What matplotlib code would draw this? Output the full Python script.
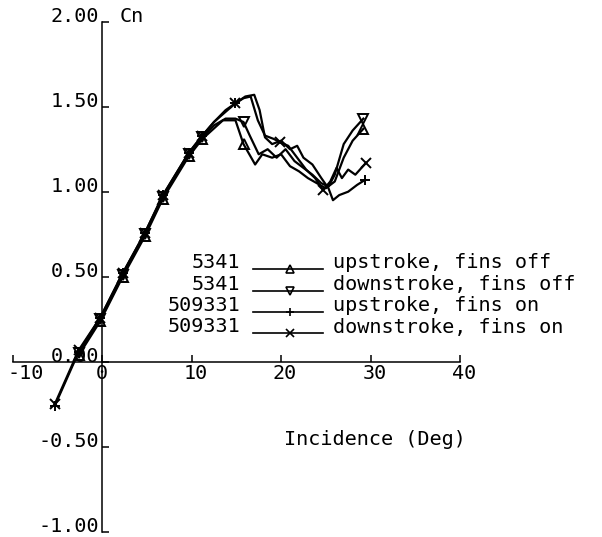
import matplotlib
matplotlib.use("Agg")
import matplotlib.pyplot as plt
from matplotlib.transforms import ScaledTranslation


# =========================================================
# DATA  (Cn vs incidence, deg)
# =========================================================

UP_OFF_DEG = [-2.6, -0.2, 2.3, 4.8, 6.8, 9.7, 11.2, 13.5, 14.9, 15.8, 17.1, 17.9,
              19.0, 20.0, 21.0, 22.0, 23.0, 24.0, 25.0, 26.0, 27.0, 28.0, 29.2]
UP_OFF_CN = [0.04, 0.24, 0.50, 0.74, 0.96, 1.21, 1.31, 1.42, 1.42, 1.28, 1.16, 1.22,
             1.20, 1.22, 1.15, 1.12, 1.08, 1.05, 1.02, 1.06, 1.20, 1.30, 1.37]

DOWN_OFF_DEG = [-2.6, -0.2, 2.3, 4.8, 6.8, 9.7, 11.2, 12.5, 13.8, 14.9, 15.8, 16.5,
                17.5, 18.5, 19.5, 20.5, 21.5, 22.5, 23.5, 24.5, 25.3, 26.0, 27.0,
                28.0, 29.2]
DOWN_OFF_CN = [0.05, 0.25, 0.51, 0.75, 0.97, 1.22, 1.32, 1.39, 1.43, 1.43, 1.41, 1.33,
               1.22, 1.25, 1.20, 1.25, 1.18, 1.14, 1.10, 1.05, 1.03, 1.10, 1.28,
               1.36, 1.43]

UP_ON_DEG = [-5.3, -2.6, -0.2, 2.3, 4.8, 6.8, 9.7, 11.2, 12.5, 13.8, 14.9, 16.0,
             17.0, 17.6, 18.2, 19.0, 20.0, 21.0, 21.8, 22.5, 23.5, 24.5, 25.3,
             25.8, 26.5, 27.5, 28.5, 29.4]
UP_ON_CN = [-0.26, 0.06, 0.26, 0.52, 0.76, 0.98, 1.23, 1.33, 1.41, 1.48, 1.52, 1.56,
            1.57, 1.48, 1.32, 1.28, 1.30, 1.25, 1.27, 1.20, 1.16, 1.08, 1.02,
            0.95, 0.98, 1.00, 1.04, 1.07]

DOWN_ON_DEG = [-5.3, -2.6, -0.2, 2.3, 4.8, 6.8, 9.7, 11.2, 12.5, 13.8, 14.9, 15.8,
               16.6, 17.4, 18.2, 19.2, 19.9, 20.8, 21.8, 22.8, 23.8, 24.7, 25.5,
               26.2, 26.8, 27.5, 28.3, 29.5]
DOWN_ON_CN = [-0.25, 0.07, 0.26, 0.52, 0.76, 0.98, 1.23, 1.33, 1.41, 1.47, 1.52, 1.55,
              1.56, 1.42, 1.33, 1.31, 1.29, 1.27, 1.20, 1.13, 1.08, 1.01, 1.06,
              1.14, 1.08, 1.13, 1.10, 1.17]

RUNS = ["5341", "5341", "509331", "509331"]
LABELS = ["upstroke, fins off", "downstroke, fins off",
          "upstroke, fins on", "downstroke, fins on"]
MARKERS = ["^", "v", "+", "x"]

# which samples carry a symbol
MARK_UP_OFF = [0, 1, 2, 3, 4, 5, 6, 9, 22]
MARK_DOWN_OFF = [0, 1, 2, 3, 4, 5, 6, 10, 24]
MARK_UP_ON = [0, 1, 2, 3, 4, 5, 6, 7, 10, 27]
MARK_DOWN_ON = [0, 1, 2, 3, 4, 5, 6, 7, 10, 16, 21, 27]

X_TICKS = [-10, 0, 10, 20, 30, 40]
Y_TICKS = [-1.0, -0.5, 0.0, 0.5, 1.0, 1.5, 2.0]

W, H = 602, 537


def fig_xy(px, py):
    # pixel position (from top-left) -> figure fraction
    return px / W, 1 - py / H


def main():
    plt.rcParams["font.family"] = ["DejaVu Sans Mono"]
    plt.rcParams["font.size"] = 14.5

    fig = plt.figure(figsize=(W / 100, H / 100), dpi=100)
    x0, y1 = fig_xy(12.7, 21.7)
    x1, y0 = fig_xy(460, 531.7)
    ax = fig.add_axes([x0, y0, x1 - x0, y1 - y0])

    series = [
        (UP_OFF_DEG, UP_OFF_CN, MARK_UP_OFF),
        (DOWN_OFF_DEG, DOWN_OFF_CN, MARK_DOWN_OFF),
        (UP_ON_DEG, UP_ON_CN, MARK_UP_ON),
        (DOWN_ON_DEG, DOWN_ON_CN, MARK_DOWN_ON),
    ]
    for (deg, cn, every), mk in zip(series, MARKERS):
        ax.plot(deg, cn, color="black", lw=1.6, marker=mk, markevery=every,
                ms=7, mew=1.4, mfc="none", mec="black", clip_on=False)

    # axes through the origin
    ax.set_xlim(-10, 40)
    ax.set_ylim(-1, 2)
    ax.spines["left"].set_position(("data", 0))
    ax.spines["bottom"].set_position(("data", 0))
    ax.spines["top"].set_visible(False)
    ax.spines["right"].set_visible(False)
    for s in ("left", "bottom"):
        ax.spines[s].set_linewidth(1.1)
    ax.set_xticks(X_TICKS)
    ax.set_yticks(Y_TICKS)
    ax.set_xticklabels([f"{v:d}" for v in X_TICKS])
    ax.set_yticklabels([f"{v:.2f}" for v in Y_TICKS])
    ax.tick_params(direction="in", length=5, width=1.1, pad=2)
    for lab in ax.get_yticklabels():
        lab.set_verticalalignment("baseline")

    # nudge the x labels a little to the right; -10 hugs the left edge
    for v, lab in zip(X_TICKS, ax.get_xticklabels()):
        if v == -10:
            lab.set_horizontalalignment("left")
            dx = -5
        elif v == 0:
            dx = 0
        else:
            dx = 4
        lab.set_transform(lab.get_transform()
                          + ScaledTranslation(dx / 100, 0, fig.dpi_scale_trans))
    ax.set_facecolor("none")

    ax.text(2, 2.0, "Cn", ha="left", va="baseline")
    ax.text(30.5, -0.46, "Incidence (Deg)", ha="center", va="center")

    # =====================================================
    # KEY
    # =====================================================

    rows = [263, 284.5, 305.5, 327]
    for py, run, lab, mk in zip(rows, RUNS, LABELS, MARKERS):
        fx, fy = fig_xy(240, py)
        fig.text(fx, fy, run, ha="right", va="center")
        lx0, _ = fig_xy(253, py)
        lx1, _ = fig_xy(323, py)
        mx, _ = fig_xy(290, py)
        fig.add_artist(plt.Line2D([lx0, lx1], [fy - 0.012, fy - 0.012],
                                  color="black", lw=1.2))
        fig.add_artist(plt.Line2D([mx], [fy - 0.012], marker=mk, ms=6, mew=1.2,
                                  mfc="none", mec="black", color="black"))
        tx, _ = fig_xy(333, py)
        fig.text(tx, fy, lab, ha="left", va="center")

    fig.savefig("out.png", dpi=100, facecolor="white")
    plt.close(fig)


if __name__ == "__main__":
    main()
